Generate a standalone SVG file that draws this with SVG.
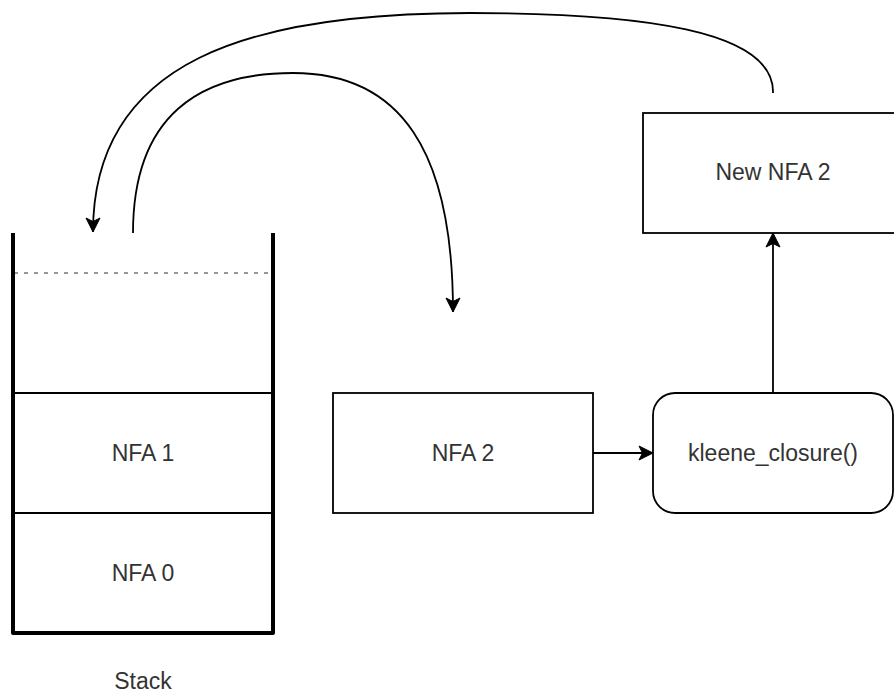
<svg xmlns="http://www.w3.org/2000/svg" width="894" height="696" viewBox="0 0 894 696">
  <style>
    .box { fill: #ffffff; stroke: #000000; stroke-width: 1.8; }
    .wall { fill: none; stroke: #000000; stroke-width: 4; stroke-linejoin: round; }
    .slot { fill: none; stroke: #000000; stroke-width: 2; }
    .top { fill: none; stroke: #777777; stroke-width: 1.5; stroke-dasharray: 4 6; }
    .edge { fill: none; stroke: #000000; stroke-width: 1.8; }
    .label { font-family: "Liberation Sans", Arial, Helvetica, sans-serif; font-size: 23px; fill: #333333; text-anchor: middle; }
  </style>
  <defs>
    <marker id="arrow" viewBox="0 0 16 16" refX="15" refY="8" markerWidth="16" markerHeight="16" markerUnits="userSpaceOnUse" orient="auto">
      <path d="M1,1 L15,8 L1,15 L4.5,8 Z" fill="#000000" stroke="#000000" stroke-width="1" stroke-linejoin="miter"/>
    </marker>
  </defs>

  <rect width="894" height="696" fill="#ffffff"/>

  <!-- stack container -->
  <g id="stack">
    <line class="top" x1="14" y1="273" x2="271" y2="273"/>
    <line class="slot" x1="13" y1="393" x2="273" y2="393"/>
    <line class="slot" x1="13" y1="513" x2="273" y2="513"/>
    <path class="wall" d="M13,233 L13,633 L273,633 L273,233"/>
    <text class="label" x="143" y="689">Stack</text>
  </g>

  <g id="nfa1">
    <text class="label" x="143" y="461">NFA 1</text>
  </g>

  <g id="nfa0">
    <text class="label" x="143" y="581">NFA 0</text>
  </g>

  <g id="nfa2">
    <rect class="box" x="333" y="393" width="260" height="120"/>
    <text class="label" x="463" y="461">NFA 2</text>
  </g>

  <g id="kleene">
    <rect class="box" x="653" y="393" width="240" height="120" rx="22" ry="22"/>
    <text class="label" x="773" y="461">kleene_closure()</text>
  </g>

  <g id="newnfa2">
    <rect class="box" x="643" y="113" width="262" height="120"/>
    <text class="label" x="773" y="180">New NFA 2</text>
  </g>

  <g id="connectors">
    <!-- pop NFA 1 off the stack -->
    <path class="edge" marker-end="url(#arrow)" d="M133,233 C133,115 200,73 293,73 C400,73 453,150 453,312"/>
    <!-- NFA 2 into kleene_closure() -->
    <path class="edge" marker-end="url(#arrow)" d="M593,453 L653,453"/>
    <!-- result of kleene_closure() -->
    <path class="edge" marker-end="url(#arrow)" d="M773,393 L773,233"/>
    <!-- push New NFA 2 back onto the stack -->
    <path class="edge" marker-end="url(#arrow)" d="M773,93 C775,30 640,13 470,13 C250,13 93,60 93,232"/>
  </g>
</svg>
